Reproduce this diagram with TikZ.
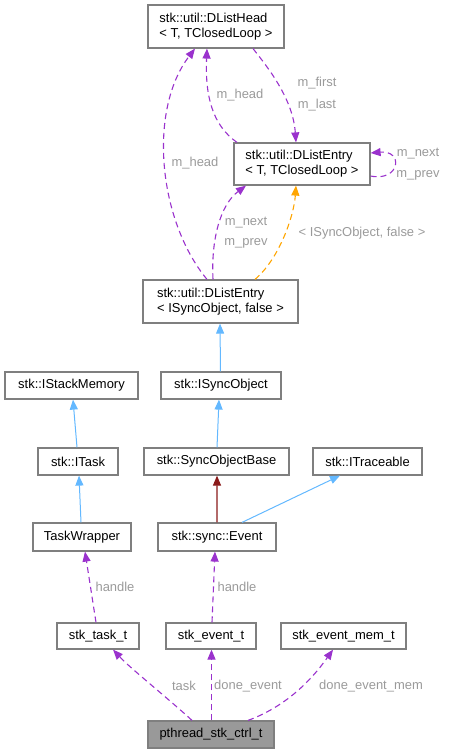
\documentclass[tikz,border=0pt]{standalone}
\usepackage{fontspec}
\setmainfont{Liberation Sans}
\usetikzlibrary{arrows.meta}

\definecolor{edgepurple}{HTML}{9A32CD}
\definecolor{edgeblue}{HTML}{63B8FF}
\definecolor{edgeorange}{HTML}{FFA500}
\definecolor{edgered}{HTML}{8B1A1A}
\definecolor{labelgray}{HTML}{9A9A9A}
\definecolor{boxborder}{HTML}{7F7F7F}
\definecolor{rootfill}{HTML}{999999}

\tikzset{
  cls/.style={draw=boxborder, fill=white, line width=1.2bp, inner sep=0pt,
              font=\fontsize{13}{15}\selectfont},
  member/.style={edgepurple, line width=1.1bp, dash pattern=on 6bp off 4bp,
                 -{Triangle[length=10bp,width=8bp]}},
  templ/.style={edgeorange, line width=1.1bp, dash pattern=on 6bp off 4bp,
                -{Triangle[length=10bp,width=8bp]}},
  inherit/.style={edgeblue, line width=1bp, -{Triangle[length=10bp,width=8bp]}},
  privinherit/.style={edgered, line width=1.2bp, -{Triangle[length=10bp,width=8bp]}},
  lbl/.style={labelgray, font=\fontsize{13}{15}\selectfont, inner sep=0pt}
}

\begin{document}
\begin{tikzpicture}[x=1bp, y=-1bp]

\useasboundingbox (0,0) rectangle (450,753);

\node[cls, minimum width=136bp, minimum height=43bp, align=left] (head) at (216, 26.5)
  {stk::util::DListHead\\< T, TClosedLoop >};
\node[cls, minimum width=136bp, minimum height=42bp, align=left] (entryT) at (302, 164)
  {stk::util::DListEntry\\< T, TClosedLoop >};
\node[cls, minimum width=155bp, minimum height=43bp, align=left] (entryS) at (220.5, 301.5)
  {stk::util::DListEntry\\< ISyncObject, false >};

\node[cls, minimum width=133bp, minimum height=27bp] (stackmem) at (71.5, 385.5) {stk::IStackMemory};
\node[cls, minimum width=120bp, minimum height=27bp] (isync) at (221, 385.5) {stk::ISyncObject};
\node[cls, minimum width=80bp, minimum height=27bp] (itask) at (78, 461.5) {stk::ITask};
\node[cls, minimum width=145bp, minimum height=27bp] (syncbase) at (216.5, 461.5) {stk::SyncObjectBase};
\node[cls, minimum width=109bp, minimum height=27bp] (itrace) at (367.5, 461.5) {stk::ITraceable};
\node[cls, minimum width=98bp, minimum height=28bp] (wrapper) at (82, 537) {TaskWrapper};
\node[cls, minimum width=118bp, minimum height=28bp] (event) at (217, 537) {stk::sync::Event};
\node[cls, minimum width=82bp, minimum height=26bp] (taskt) at (98, 636) {stk\_task\_t};
\node[cls, minimum width=90bp, minimum height=26bp] (eventt) at (211, 636) {stk\_event\_t};
\node[cls, minimum width=125bp, minimum height=26bp] (eventmem) at (343.5, 636) {stk\_event\_mem\_t};
\node[cls, fill=rootfill, minimum width=126bp, minimum height=27bp] (ctrl) at (211, 734.5) {pthread\_stk\_ctrl\_t};

% list links at the top
\draw[member] ([xshift=-13.5bp]entryS.north) .. controls (158,220) and (148,110) .. ([xshift=-21bp]head.south);
\draw[member] ([xshift=-65bp]entryT.north) .. controls (212,125) and (205,95) .. ([xshift=-9bp]head.south);
\draw[member] ([xshift=37bp]head.south) .. controls (270,70) and (293,100) .. ([xshift=-6bp]entryT.north);
\draw[member] ([yshift=-12bp]entryT.east) .. controls (400,182) and (404,150) .. ([yshift=11bp]entryT.east);
\draw[member] ([xshift=-7.5bp]entryS.north) .. controls (211,240) and (220,205) .. ([xshift=-56bp]entryT.south);
\draw[templ] ([xshift=34.5bp]entryS.north) .. controls (280,258) and (294,215) .. ([xshift=-6bp]entryT.south);

\node[lbl] (lhead) at (240, 95) {m\_head};
\node[lbl] (lfirst) at (317, 83) {m\_first};
\node[lbl] (llast) at (317, 105) {m\_last};
\node[lbl] (lhead2) at (195, 163) {m\_head};
\node[lbl] (lnext) at (418, 154) {m\_next};
\node[lbl] (lprev) at (418, 175) {m\_prev};
\node[lbl] (lnext2) at (246, 223) {m\_next};
\node[lbl] (lprev2) at (246, 243) {m\_prev};
\node[lbl] (ltempl) at (362, 233) {< ISyncObject, false >};

% inheritance
\draw[inherit] ([xshift=-0.5bp]isync.north) -- ([xshift=-0.5bp]entryS.south);
\draw[inherit] ([xshift=0.5bp]syncbase.north) -- ([xshift=-2bp]isync.south);
\draw[inherit] ([xshift=-1bp]itask.north) -- ([xshift=1.5bp]stackmem.south);
\draw[inherit] ([xshift=-1bp]wrapper.north) -- ([xshift=1bp]itask.south);
\draw[privinherit] (event.north) -- ([xshift=0.5bp]syncbase.south);
\draw[inherit] ([xshift=25bp]event.north) -- ([xshift=-27.5bp]itrace.south);

% members at the bottom
\draw[member] ([xshift=-2bp]taskt.north) -- ([xshift=3bp]wrapper.south);
\draw[member] ([xshift=1bp]eventt.north) -- ([xshift=-2bp]event.south);
\draw[member] ([xshift=-19bp]ctrl.north) .. controls (170,700) and (130,668) .. ([xshift=15bp]taskt.south);
\draw[member] ([xshift=0.5bp]ctrl.north) -- ([xshift=0.5bp]eventt.south);
\draw[member] ([xshift=37bp]ctrl.north) .. controls (290,705) and (315,675) .. ([xshift=-10.5bp]eventmem.south);

\node[lbl] (lhandle) at (115, 587) {handle};
\node[lbl] (lhandle2) at (237, 587) {handle};
\node[lbl] (ltask) at (184, 686) {task};
\node[lbl] (ldone) at (248, 686) {done\_event};
\node[lbl] (ldonemem) at (371, 686) {done\_event\_mem};

\end{tikzpicture}
\end{document}
